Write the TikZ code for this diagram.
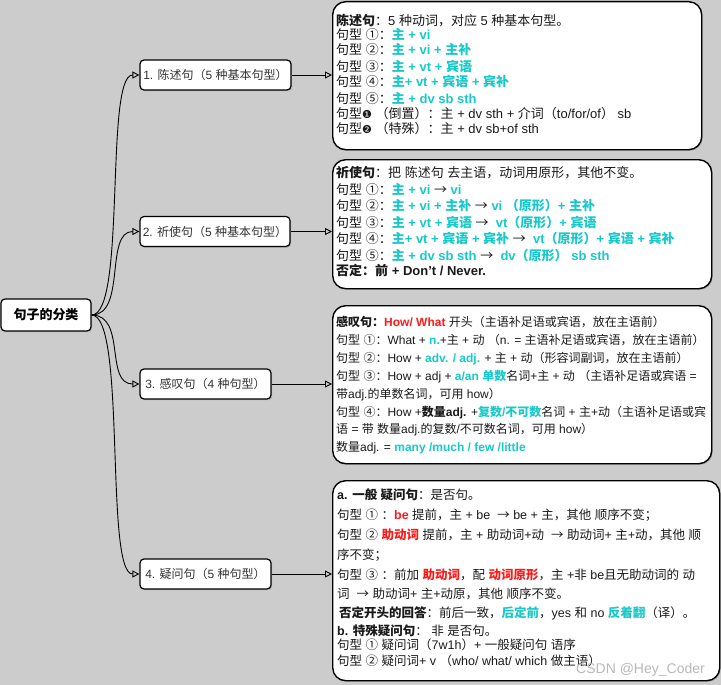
\documentclass[tikz,border=0pt]{standalone}
\usepackage{fontspec}
\setmainfont{Liberation Sans}
\newfontfamily\cjkfont{Noto Sans CJK SC}
\newfontfamily\djv{DejaVu Sans}
\usetikzlibrary{arrows.meta,shadows}
\definecolor{bg}{HTML}{CCCCCC}
\definecolor{cyanT}{HTML}{19C8C8}
\definecolor{redT}{HTML}{FF1A1A}
\definecolor{txt}{HTML}{1A1A1A}
\definecolor{gtxt}{HTML}{333333}
\XeTeXinterchartokenstate=1
\newXeTeXintercharclass\cjkcls
\newcount\cjkc
\def\setcjkrange#1#2{\cjkc=#1\relax\loop\XeTeXcharclass\cjkc=\cjkcls\relax\advance\cjkc by 1\relax\ifnum\cjkc<#2\relax\repeat}
\setcjkrange{"4E00}{"A000}
\setcjkrange{"3000}{"3040}
\setcjkrange{"FF00}{"FFF0}
\setcjkrange{"2460}{"2500}
\XeTeXcharclass"2192=\cjkcls
\XeTeXcharclass"2776=0
\XeTeXcharclass"2777=0
\XeTeXinterchartoks 0 \cjkcls={\cjkfont}
\XeTeXinterchartoks 4095 \cjkcls={\cjkfont}
\XeTeXinterchartoks \cjkcls 0={\rmfamily}
\XeTeXinterchartoks \cjkcls 4095={\rmfamily}
\newcommand\cy[1]{\textcolor{cyanT}{\bfseries #1}}
\newcommand\rd[1]{\textcolor{redT}{\bfseries #1}}
\newcommand\dg[1]{{\djv\fontsize{11}{12}\selectfont #1}}
\begin{document}
\begin{tikzpicture}[x=1pt,y=-1pt,
  leaf/.style={draw=black, line width=1.2pt, fill=white, rounded corners=4pt, inner sep=0pt, text=gtxt,
    font=\fontsize{12}{14}\selectfont, drop shadow={shadow xshift=1.2pt, shadow yshift=-1.2pt, opacity=.35}},
  bigbox/.style={draw=black, line width=1.4pt, fill=white, rounded corners=13pt, inner sep=0pt, anchor=north west,
    drop shadow={shadow xshift=1.2pt, shadow yshift=-1.2pt, opacity=.35}},
  ln/.style={anchor=base west, inner sep=0pt, text=txt, font=\fontsize{12}{14}\selectfont},
  lnb/.style={ln, font=\fontsize{13}{15}\selectfont},
  lnc/.style={ln, font=\fontsize{12.5}{15}\selectfont},
  arr/.style={-{Triangle[open,length=7pt,width=7pt]}, line width=0.9pt, draw=black}]
\fill[bg] (0,0) rectangle (721,685);
\useasboundingbox (0,0) rectangle (721,685);

% root and branches
\node[leaf, minimum width=90pt, minimum height=32pt, text=black, font=\bfseries\fontsize{13}{15}\selectfont] (root) at (46,315) {句子的分类};
\node[leaf, minimum width=151pt, minimum height=30pt] (n1) at (215.5,75) {1. 陈述句（5 种基本句型）};
\node[leaf, minimum width=150pt, minimum height=30pt] (n2) at (215,231.5) {2. 祈使句（5 种基本句型）};
\node[leaf, minimum width=131pt, minimum height=30pt] (n3) at (205.5,384) {3. 感叹句（4 种句型）};
\node[leaf, minimum width=131pt, minimum height=30pt] (n4) at (205.5,574) {4. 疑问句（5 种句型）};

% boxes
\node[bigbox, minimum width=369pt, minimum height=148pt] (b1) at (332,1) {};
\node[bigbox, minimum width=379pt, minimum height=129pt] (b2) at (332,159) {};
\node[bigbox, minimum width=379pt, minimum height=158pt] (b3) at (332,305) {};
\node[bigbox, minimum width=387pt, minimum height=200pt] (b4) at (332,480) {};

% connectors
\foreach \n in {n1,n2,n3,n4}{
  \draw[arr] (root.east) .. controls +(35,0) and +(-35,0) .. (\n.west);
}
\draw[arr] (n1.east) -- (n1.east -| b1.west);
\draw[arr] (n2.east) -- (n2.east -| b2.west);
\draw[arr] (n3.east) -- (n3.east -| b3.west);
\draw[arr] (n4.east) -- (n4.east -| b4.west);

% box 1
\node[lnb] (b1l1) at (336,25.5) {\textbf{陈述句}：5 种动词，对应 5 种基本句型。};
\node[lnb] (b1l2) at (336,39.8) {句型 ①：\cy{主 + vi}};
\node[lnb] (b1l3) at (336,54.8) {句型 ②：\cy{主 + vi + 主补}};
\node[lnb] (b1l4) at (336,71.4) {句型 ③：\cy{主 + vt + 宾语}};
\node[lnb] (b1l5) at (336,87) {句型 ④：\cy{主+ vt + 宾语 + 宾补}};
\node[lnb] (b1l6) at (336,103) {句型 ⑤：\cy{主 + dv sb sth}};
\node[lnb] (b1l7) at (336,119) {句型\dg{❶} （倒置）：主 + dv sth + 介词（to/for/of） sb};
\node[lnb] (b1l8) at (336,133) {句型\dg{❷} （特殊）：主 + dv sb+of sth};

% box 2
\node[lnb] (b2l1) at (336,177.8) {\textbf{祈使句}：把 陈述句 去主语，动词用原形，其他不变。};
\node[lnb] (b2l2) at (336,194) {句型 ①：\cy{主 + vi} → \cy{vi}};
\node[lnb] (b2l3) at (336,210.8) {句型 ②：\cy{主 + vi + 主补} → \cy{vi （原形）+ 主补}};
\node[lnb] (b2l4) at (336,227.8) {句型 ③：\cy{主 + vt + 宾语} → \ \cy{vt（原形）+ 宾语}};
\node[lnb] (b2l5) at (336,243.8) {句型 ④：\cy{主+ vt + 宾语 + 宾补} → \ \cy{vt（原形）+ 宾语 + 宾补}};
\node[lnb] (b2l6) at (336,260) {句型 ⑤：\cy{主 + dv sb sth} → \ \cy{dv（原形） sb sth}};
\node[lnb] (b2l7) at (336,275.8) {\textbf{否定：前 + Don't / Never.}};

% box 3
\node[ln] (b3l1) at (336,326.8) {\textbf{感叹句：}\rd{How/ What} 开头（主语补足语或宾语，放在主语前）};
\node[ln] (b3l2) at (336,344.5) {句型 ①：What + \cy{n.}+主 + 动 （n. = 主语补足语或宾语，放在主语前）};
\node[ln] (b3l3) at (336,362.2) {句型 ②：How + \cy{adv. / adj.} + 主 + 动（形容词副词，放在主语前）};
\node[ln] (b3l4) at (336,380.2) {句型 ③：How + adj + \cy{a/an 单数}名词+主 + 动 （主语补足语或宾语 =};
\node[ln] (b3l5) at (336,398.5) {带adj.的单数名词，可用 how）};
\node[ln] (b3l6) at (336,416.2) {句型 ④：How +\textbf{数量adj.} +\cy{复数/不可数}名词 + 主+动（主语补足语或宾};
\node[ln] (b3l7) at (336,433.8) {语 = 带 数量adj.的复数/不可数名词，可用 how）};
\node[ln] (b3l8) at (336,451.8) {数量adj. = \cy{many /much / few /little}};

% box 4
\node[lnc] (b4l1) at (337,499.2) {\textbf{a. 一般 疑问句}：是否句。};
\node[lnc] (b4l2) at (337,519.8) {句型 ① ：\rd{be} 提前，主 + be \ → be + 主，其他 顺序不变；};
\node[lnc] (b4l3) at (337,539.8) {句型 ② \rd{助动词} 提前，主 + 助动词+动 \ → 助动词+ 主+动，其他 顺};
\node[lnc] (b4l4) at (337,559.8) {序不变；};
\node[lnc] (b4l5) at (337,579.2) {句型 ③ ：前加 \rd{助动词}，配 \rd{动词原形}，主 +非 be且无助动词的 动};
\node[lnc] (b4l6) at (337,598.5) {词 \ → 助动词+ 主+动原，其他 顺序不变。};
\node[lnc] (b4l7) at (339,617.5) {\textbf{否定开头的回答}：前后一致，\cy{后定前}，yes 和 no \cy{反着翻}（译）。};
\node[lnc] (b4l8) at (337,635.8) {\textbf{b. 特殊疑问句}： 非 是否句。};
\node[lnc] (b4l9) at (337,649.2) {句型 ① 疑问词（7w1h）+ 一般疑问句 语序};
\node[lnc] (b4l10) at (337,665.2) {句型 ② 疑问词+ v （who/ what/ which 做主语）};

% watermark
\node[anchor=base east, inner sep=0pt, text=black!28, font=\fontsize{14}{16}\selectfont] (wm) at (705,673) {CSDN @Hey\_Coder};
\end{tikzpicture}
\end{document}
